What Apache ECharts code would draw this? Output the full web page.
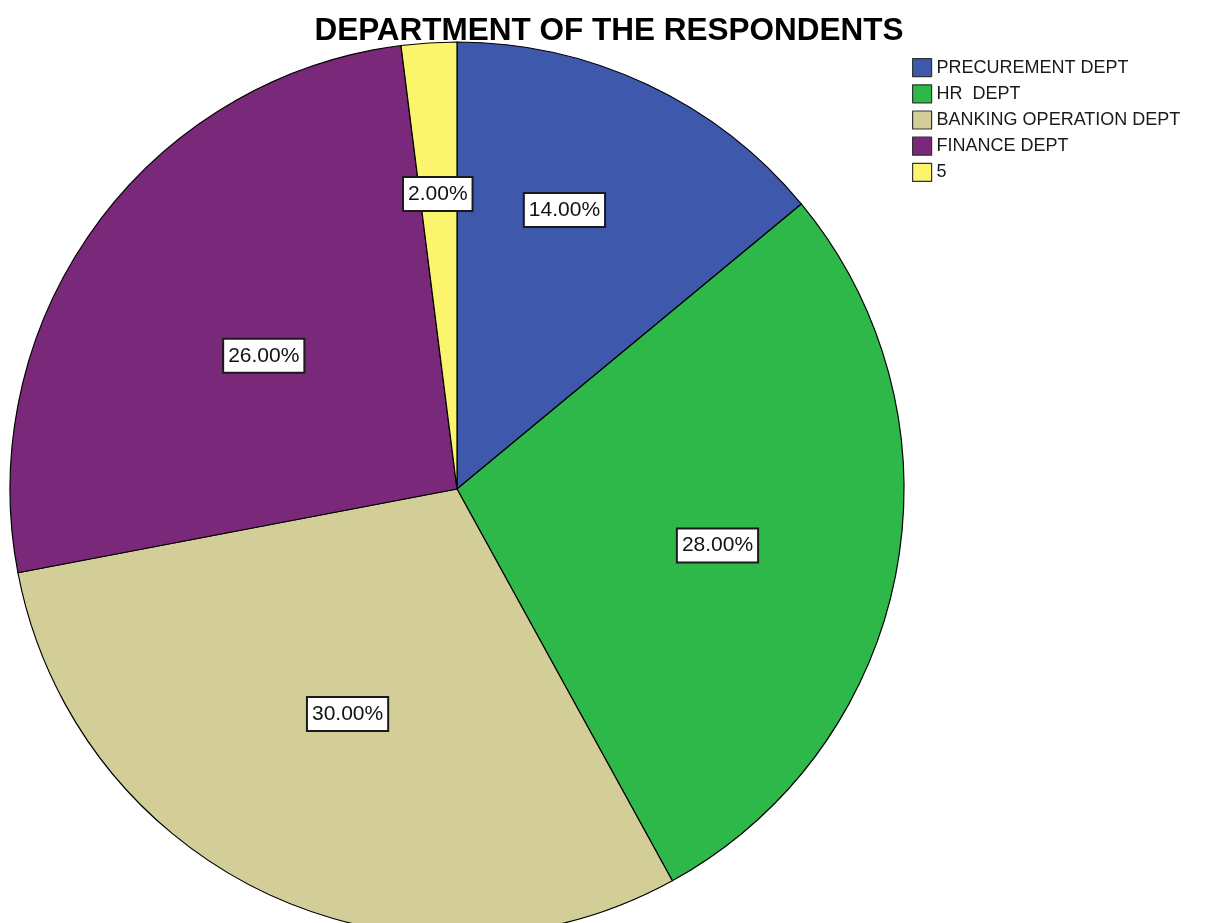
<!DOCTYPE html>
<html>
<head>
<meta charset="utf-8">
<script src="https://cdn.jsdelivr.net/npm/echarts@6/dist/echarts.min.js"></script>
<style>
  html, body { margin: 0; padding: 0; background: #fff; }
  #main { width: 1209px; height: 923px; }
</style>
</head>
<body>
<div id="main"></div>
<script>
// departments and their share of respondents (percent)
var departments = ['PRECUREMENT DEPT', 'HR  DEPT', 'BANKING OPERATION DEPT', 'FINANCE DEPT', '5'];
var percents = [14, 28, 30, 26, 2];
var sliceColors = ['#3e58ab', '#2eb84a', '#d3ce97', '#7a2879', '#fbf56d'];
// nudges so the boxes sit where SPSS put them
var labelOffsets = [[11, -74], [38, 14], [-13, 20], [-10, 0], [-5, -69]];

var chart = echarts.init(document.getElementById('main'));

var pieData = [];
for (var i = 0; i < departments.length; i++) {
    pieData.push({
        name: departments[i],
        value: percents[i],
        itemStyle: { color: sliceColors[i] },
        label: { offset: labelOffsets[i] }
    });
}

chart.setOption({
    backgroundColor: '#ffffff',
    animation: false,
    title: {
        text: 'DEPARTMENT OF THE RESPONDENTS',
        left: 604,
        top: 10,
        textAlign: 'center',
        textStyle: {
            fontFamily: 'Liberation Sans, Arial, sans-serif',
            fontSize: 31.5,
            fontWeight: 'bold',
            color: '#000'
        }
    },
    legend: {
        orient: 'vertical',
        left: 912,
        top: 58,
        padding: 0,
        itemWidth: 19,
        itemHeight: 18,
        itemGap: 7,
        icon: 'rect',
        selectedMode: false,
        itemStyle: { borderColor: '#333', borderWidth: 1.2 },
        textStyle: {
            fontFamily: 'Liberation Sans, Arial, sans-serif',
            fontSize: 18,
            lineHeight: 18,
            color: '#1a1a1a',
            padding: [0, 0, 0, 0]
        },
        data: departments
    },
    series: [{
        type: 'pie',
        center: [457, 489],
        radius: 447,
        startAngle: 90,
        clockwise: true,
        avoidLabelOverlap: false,
        emphasis: { disabled: true },
        itemStyle: { borderColor: '#000', borderWidth: 1.2 },
        label: {
            show: true,
            position: 'inside',
            formatter: function (p) { return p.value.toFixed(2) + '%'; },
            fontFamily: 'Liberation Sans, Arial, sans-serif',
            fontSize: 21,
            color: '#111',
            backgroundColor: '#fff',
            borderColor: '#1a1a1a',
            borderWidth: 2,
            padding: [6, 4, 5, 4]
        },
        labelLine: { show: false },
        data: pieData
    }]
});
</script>
</body>
</html>
